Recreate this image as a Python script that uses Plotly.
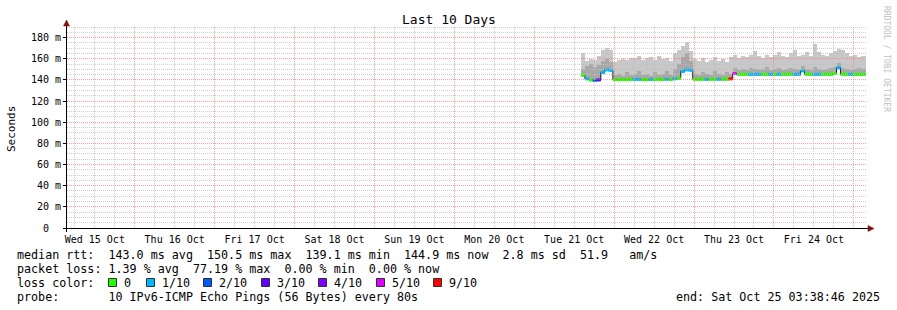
import math
import plotly.graph_objects as go
import pandas as pd

# ---------------- data ----------------
SERIES_START = "2025-10-21 14:00"   # first sample (bin start)
STEP_MIN = 72                        # sampling step (minutes)
RANGE_START = "2025-10-15 03:38:46"
RANGE_END = "2025-10-25 03:38:46"

median_ms = [144.5, 141.0, 139.8, 139.6, 140.0, 147.0, 149.5, 149.0,
             140.4, 140.3, 140.5, 140.4, 140.5, 140.6, 140.5, 140.4,
             140.3, 140.5, 140.4, 140.6, 140.5, 140.7, 140.5, 141.0,
             141.5, 148.0, 149.5, 149.2, 140.7, 140.6, 140.7, 140.6,
             140.8, 140.7, 140.6, 140.7, 140.8, 141.0, 146.0, 145.2,
             145.1, 145.2, 145.0, 145.1, 145.2, 145.1, 145.0, 145.2,
             145.1, 145.2, 145.0, 145.1, 145.2, 145.1, 145.3, 148.5,
             145.2, 145.1, 145.0, 145.2, 145.1, 145.2, 145.1, 146.0,
             151.5, 145.2, 145.1, 145.2, 145.1, 145.0, 145.1, 145.2]

loss_count = [0, 1, 0, 2, 3, 1, 1, 1,
              0, 0, 0, 0, 0, 1, 1, 0,
              0, 1, 0, 0, 0, 1, 0, 1,
              0, 1, 1, 1, 0, 0, 0, 1,
              0, 0, 1, 0, 0, 9, 5, 0,
              0, 0, 1, 1, 1, 0, 0, 1,
              0, 1, 0, 0, 0, 1, 1, 1,
              0, 0, 1, 1, 0, 0, 0, 0,
              1, 0, 0, 1, 0, 0, 0, 0]

smoke_max = [165.5, 158, 160, 159, 163, 168.5, 170, 168,
             157, 159, 160, 158.5, 161, 160.5, 163, 159,
             161, 162, 159, 163, 160, 161, 158, 165,
             168, 172, 175.5, 167, 160, 158, 161, 157,
             159, 162, 158, 160, 157, 162, 164, 161,
             163, 162, 164, 167.5, 163, 161, 164, 162,
             164, 166.5, 163, 162, 165, 168, 163, 164,
             166, 163, 174, 166.5, 164, 163, 165, 167,
             169.5, 168, 165, 163, 164, 162, 163, 163]

smoke_inner = [150, 153, 155, 152, 154, 158, 160, 157,
               145, 146, 144, 147, 145, 146, 148, 145,
               146, 144, 147, 145, 146, 148, 145, 150,
               155, 162, 165, 158, 146, 145, 147, 146,
               145, 148, 146, 145, 147, 146, 151, 149,
               150, 149, 151, 150, 149, 150, 152, 149,
               150, 151, 149, 150, 151, 150, 149, 153,
               150, 149, 152, 150, 149, 150, 151, 152,
               156, 151, 150, 149, 150, 151, 150, 149]

smoke_min = [143.0, 139.5, 138.5, 138.3, 138.8, 145.5, 148.0, 147.5,
             139.0, 138.9, 139.1, 139.0, 139.0, 139.2, 139.0, 138.9,
             138.8, 139.0, 139.0, 139.1, 139.0, 139.2, 139.0, 139.5,
             140.0, 146.5, 148.0, 147.7, 139.2, 139.1, 139.2, 139.1,
             139.3, 139.2, 139.1, 139.2, 139.3, 139.5, 144.5, 143.7,
             143.6, 143.7, 143.5, 143.6, 143.7, 143.6, 143.5, 143.7,
             143.6, 143.7, 143.5, 143.6, 143.7, 143.6, 143.8, 147.0,
             143.7, 143.6, 143.5, 143.7, 143.6, 143.7, 143.6, 144.5,
             150.0, 143.7, 143.6, 143.7, 143.6, 143.5, 143.6, 143.7]

loss_levels = [0, 1, 2, 3, 4, 5, 9]
loss_labels = ["0", "1/10", "2/10", "3/10", "4/10", "5/10", "9/10"]
loss_colors = ["#26ff00", "#00b8ff", "#0059ff", "#5e00ff", "#7e00ff", "#dd00ff", "#ff0000"]

day_labels = ["Wed 15 Oct", "Thu 16 Oct", "Fri 17 Oct", "Sat 18 Oct", "Sun 19 Oct",
              "Mon 20 Oct", "Tue 21 Oct", "Wed 22 Oct", "Thu 23 Oct", "Fri 24 Oct"]
y_ticks = [0, 20, 40, 60, 80, 100, 120, 140, 160, 180]

legend_row1 = "median rtt:  143.0 ms avg  150.5 ms max  139.1 ms min  144.9 ms now  2.8 ms sd  51.9   am/s"
legend_row2 = "packet loss: 1.39 % avg  77.19 % max  0.00 % min  0.00 % now"
legend_row3_label = "loss color:"
legend_row4 = "probe:       10 IPv6-ICMP Echo Pings (56 Bytes) every 80s"
end_text = "end: Sat Oct 25 03:38:46 2025"
title_text = "Last 10 Days"

# ---------------- layout constants ----------------
W, H = 897, 310
L, T, PW, PH = 67, 27, 799, 201
YMAX = 190
FONT = "DejaVu Sans Mono"

def fx(xp):
    return (xp - L) / PW

def fy(yp):
    return (T + PH - yp) / PH

def snap(p):
    return math.floor(p) + 0.5

times = pd.date_range(SERIES_START, periods=len(median_ms), freq=f"{STEP_MIN}min")
step = pd.Timedelta(minutes=STEP_MIN)
bar_w = STEP_MIN * 60 * 1000

fig = go.Figure()

# smoke (outer)
fig.add_trace(go.Bar(x=times, base=smoke_min,
                     y=[hi - lo for hi, lo in zip(smoke_max, smoke_min)],
                     width=bar_w, offset=0, marker_color="#c8c8c8",
                     marker_line_width=0, hoverinfo="skip"))
# smoke (inner)
fig.add_trace(go.Bar(x=times, base=median_ms,
                     y=[hi - m for hi, m in zip(smoke_inner, median_ms)],
                     width=bar_w, offset=0, marker_color="#a8a8a8",
                     marker_line_width=0, hoverinfo="skip"))

# median step line (dark)
xs = list(times) + [times[-1] + step]
fig.add_trace(go.Scatter(x=xs, y=median_ms + [median_ms[-1]], mode="lines",
                         line=dict(color="#202020", width=1, shape="hv"),
                         hoverinfo="skip"))

# colored median segments by loss
for lvl, col in zip(loss_levels, loss_colors):
    sx, sy = [], []
    for t, m, lc in zip(times, median_ms, loss_count):
        if lc == lvl:
            sx += [t, t + step, None]
            sy += [m, m, None]
    if sx:
        fig.add_trace(go.Scatter(x=sx, y=sy, mode="lines",
                                 line=dict(color=col, width=3),
                                 hoverinfo="skip"))

shapes = []
MINOR_C = "rgba(190,190,190,0.75)"
MAJOR_C = "rgba(255,110,110,0.65)"
DASH = "1px,1px"
# grid (drawn over the graph, dotted, pixel-snapped)
r0 = pd.Timestamp(RANGE_START)
r1 = pd.Timestamp(RANGE_END)
span = (r1 - r0).total_seconds()
t = r0.normalize()
while t <= r1:
    if t >= r0:
        major = (t.hour == 0)
        p = snap(L + (t - r0).total_seconds() / span * PW)
        shapes.append(dict(type="line", xref="paper", yref="paper", x0=fx(p), x1=fx(p),
                           y0=0, y1=1, layer="above",
                           line=dict(color=MAJOR_C if major else MINOR_C, width=1, dash=DASH)))
    t += pd.Timedelta(hours=6)
for v in range(5, YMAX + 1, 5):
    major = (v % 20 == 0)
    p = snap(T + PH * (1 - v / YMAX))
    shapes.append(dict(type="line", xref="paper", yref="paper", x0=0, x1=1, y0=fy(p), y1=fy(p),
                       layer="above",
                       line=dict(color=MAJOR_C if major else MINOR_C, width=1, dash=DASH)))

# axes lines with arrows
axc = "#000000"
shapes.append(dict(type="line", xref="paper", yref="paper", x0=fx(63), x1=fx(869),
                   y0=fy(228.5), y1=fy(228.5), line=dict(color=axc, width=1), layer="above"))
shapes.append(dict(type="line", xref="paper", yref="paper", x0=fx(66.5), x1=fx(66.5),
                   y0=fy(232), y1=fy(24), line=dict(color=axc, width=1), layer="above"))
arrow_col = "#7f1010"
shapes.append(dict(type="path", xref="paper", yref="paper", layer="above",
                   path=f"M {fx(868)},{fy(225.5)} L {fx(874)},{fy(228.5)} L {fx(868)},{fy(231.5)} Z",
                   fillcolor=arrow_col, line=dict(color=arrow_col, width=0.5)))
shapes.append(dict(type="path", xref="paper", yref="paper", layer="above",
                   path=f"M {fx(63.5)},{fy(26)} L {fx(66.5)},{fy(20)} L {fx(69.5)},{fy(26)} Z",
                   fillcolor=arrow_col, line=dict(color=arrow_col, width=0.5)))

annotations = []
annotations.append(dict(text=title_text, xref="paper", yref="paper", x=fx(448.5), y=fy(19.5),
                        xanchor="center", yanchor="middle", showarrow=False,
                        font=dict(family=FONT, size=13, color="#000")))
annotations.append(dict(text="Seconds", xref="paper", yref="paper", x=fx(11), y=fy(129),
                        xanchor="center", yanchor="middle", showarrow=False, textangle=-90,
                        font=dict(family=FONT, size=11, color="#000")))
annotations.append(dict(text="RRDTOOL / TOBI OETIKER", xref="paper", yref="paper",
                        x=fx(887), y=fy(59), xanchor="center", yanchor="middle",
                        showarrow=False, textangle=90,
                        font=dict(family=FONT, size=8, color="#c0c0c0")))

LS = 11.7
row_y = [254.5, 268.5, 282.5, 296.5]

def txt(s, x, y, anchor="left"):
    annotations.append(dict(text=s.replace(" ", "\u00a0"), xref="paper", yref="paper",
                            x=fx(x), y=fy(y), xanchor=anchor, yanchor="middle",
                            showarrow=False, borderpad=0,
                            font=dict(family=FONT, size=LS, color="#000")))

txt(legend_row1, 16, row_y[0])
txt(legend_row2, 16, row_y[1])
txt(legend_row3_label, 16, row_y[2])
box_x = [108, 146, 203, 261, 318, 376, 433]
for bx, lab, col in zip(box_x, loss_labels, loss_colors):
    shapes.append(dict(type="rect", xref="paper", yref="paper",
                       x0=fx(bx + 0.5), x1=fx(bx + 8.5), y0=fy(row_y[2] + 4), y1=fy(row_y[2] - 4),
                       fillcolor=col, line=dict(color="#303030", width=1)))
    txt(lab, bx + 15, row_y[2])
txt(legend_row4, 16, row_y[3])
txt(end_text, 881, row_y[3], anchor="right")

noon_ticks = pd.date_range("2025-10-15 12:00", periods=len(day_labels), freq="1D")

fig.update_layout(
    width=W, height=H,
    margin=dict(l=L, r=W - L - PW, t=T, b=H - T - PH, pad=0),
    paper_bgcolor="white", plot_bgcolor="white",
    showlegend=False, barmode="overlay", bargap=0,
    shapes=shapes, annotations=annotations,
    font=dict(family=FONT, color="#000"),
    xaxis=dict(type="date", range=[RANGE_START, RANGE_END], showgrid=False, zeroline=False,
               showline=False, tickvals=noon_ticks, ticktext=day_labels, ticks="",
               ticklabelstandoff=4,
               tickfont=dict(family=FONT, size=10, color="#000")),
    yaxis=dict(range=[0, YMAX], showgrid=False, zeroline=False, showline=False,
               tickvals=y_ticks,
               ticktext=["0\u00a0\u00a0"] + [f"{v} m" for v in y_ticks[1:]],
               ticks="outside", ticklen=3, tickcolor="#000",
               tickfont=dict(family=FONT, size=10, color="#000")),
)

fig.write_html("out.html")
